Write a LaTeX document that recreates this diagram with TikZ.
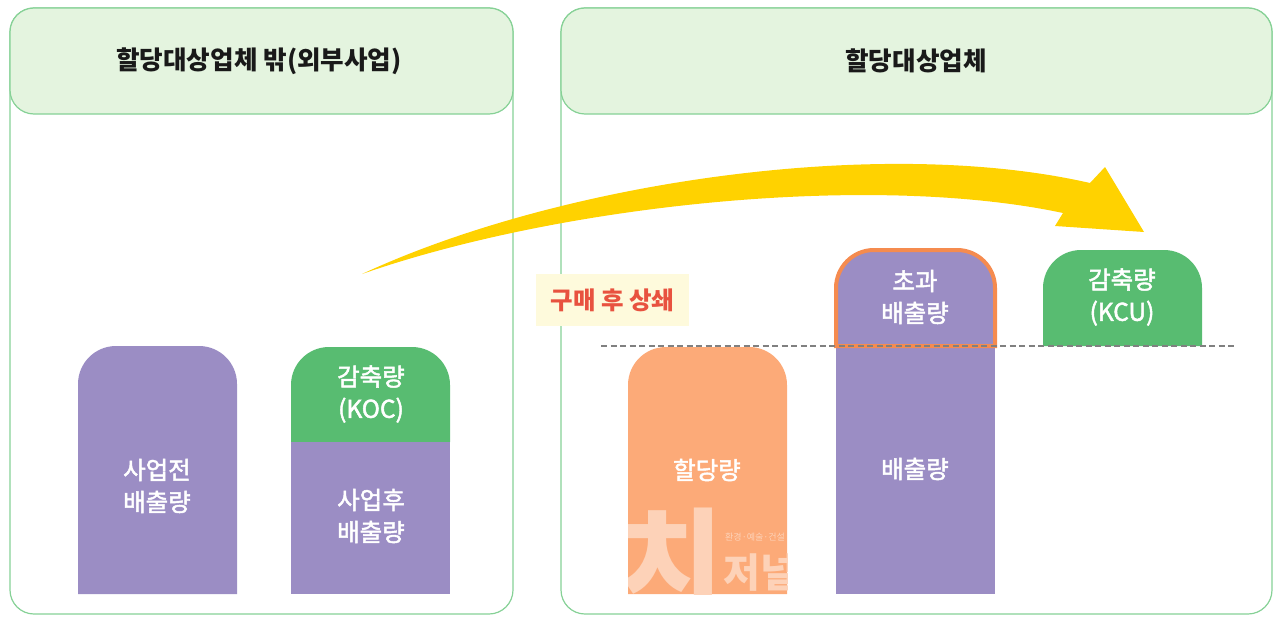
\documentclass[tikz,border=0pt]{standalone}
\usepackage{fontspec}
\setmainfont{Noto Sans CJK KR}
\newfontfamily\medfont[FakeBold=2]{Noto Sans CJK KR}
\usetikzlibrary{calc,shapes}
\definecolor{panelline}{HTML}{86D196}
\definecolor{panelhead}{HTML}{E4F4DF}
\definecolor{barpurple}{HTML}{9B8DC4}
\definecolor{bargreen}{HTML}{58BC71}
\definecolor{barorange}{HTML}{FCAA78}
\definecolor{edgeorange}{HTML}{F58B4F}
\definecolor{arrowyellow}{HTML}{FFD200}
\definecolor{notefill}{HTML}{FEFADC}
\definecolor{notetext}{HTML}{E8523F}
\definecolor{markpeach}{HTML}{FDD2B8}
\tikzset{
    headlabel/.style={font=\fontsize{25.6}{30}\selectfont\bfseries, text=black!90},
    barlabel/.style={font=\fontsize{24.5}{32}\selectfont\medfont, text=white, align=center, inner sep=0pt},
    notelabel/.style={font=\fontsize{24.5}{30}\selectfont\bfseries, text=notetext, fill=notefill,
        minimum width=153pt, minimum height=52pt, inner sep=0pt},
    toprounded/.style={rounded corners=38pt},
}
\newcommand{\panelbox}[2]{
    \draw[panelline, line width=1.2pt, rounded corners=24pt] (#1,8) rectangle (#2,614);
    \draw[panelline, line width=1.2pt, fill=panelhead, rounded corners=24pt] (#1,8) rectangle (#2,114);
}
\newcommand{\topbar}[5]{
    \path[#5] (#1,#4) [toprounded] -- (#1,#2) -- (#3,#2) [sharp corners] -- (#3,#4) -- cycle;
}
\begin{document}
\begin{tikzpicture}[x=1pt,y=-1pt]
    \useasboundingbox (0,0) rectangle (1280,618);
    \panelbox{10}{513}
    \panelbox{561}{1272}
    \node[headlabel] (N0) at (259,61) {할당대상업체 밖(외부사업)};
    \node[headlabel] (N1) at (916,61) {할당대상업체};
    % left bars
    \topbar{78}{346}{237}{594}{fill=barpurple}
    \topbar{291}{347}{450}{442}{fill=bargreen}
    \fill[barpurple] (291,442) rectangle (450,594);
    \node[barlabel] (N2) at (157,486) {사업전\\배출량};
    \node[barlabel] (N3) at (371,394) {감축량\\(KOC)};
    \node[barlabel] (N4) at (371,516) {사업후\\배출량};
    % right bars
    \topbar{628}{347}{787}{594}{fill=barorange}
    \begin{scope}
        \clip (628,400) rectangle (787,594);
        \node[font=\fontsize{112}{112}\selectfont\bfseries, text=markpeach] (N5) at (672,560) {치};
        \node[font=\fontsize{9}{9}\selectfont, text=markpeach, anchor=west, inner sep=0pt] (N6) at (725,537) {환경·예술·건설};
        \node[font=\fontsize{40}{40}\selectfont\bfseries, text=markpeach, anchor=west, inner sep=0pt] (N7) at (723,573) {저널};
    \end{scope}
    \node[barlabel] (N8) at (707,470) {할당량};
    \fill[barpurple] (836,346) rectangle (995,594);
    \topbar{836}{250}{995}{346}{fill=barpurple, draw=edgeorange, line width=4pt}
    \topbar{1043}{250}{1202}{346}{fill=bargreen}
    \node[barlabel] (N9) at (915,297) {초과\\배출량};
    \node[barlabel] (N10) at (915,469) {배출량};
    \node[barlabel] (N11) at (1122,297) {감축량\\(KCU)};
    \node[notelabel] (N12) at (612.5,300) {구매 후 상쇄};
    \draw[black!50, line width=1.4pt, dash pattern=on 6pt off 3.5pt] (601,346) -- (1235,346);
    % arrow
    \fill[arrowyellow] (362,274) .. controls (560,182) and (880,135) .. (1090,183)
        -- (1105,167) -- (1144,232) -- (1055,226) -- (1063,213)
        .. controls (870,172) and (560,205) .. cycle;
\end{tikzpicture}
\end{document}
